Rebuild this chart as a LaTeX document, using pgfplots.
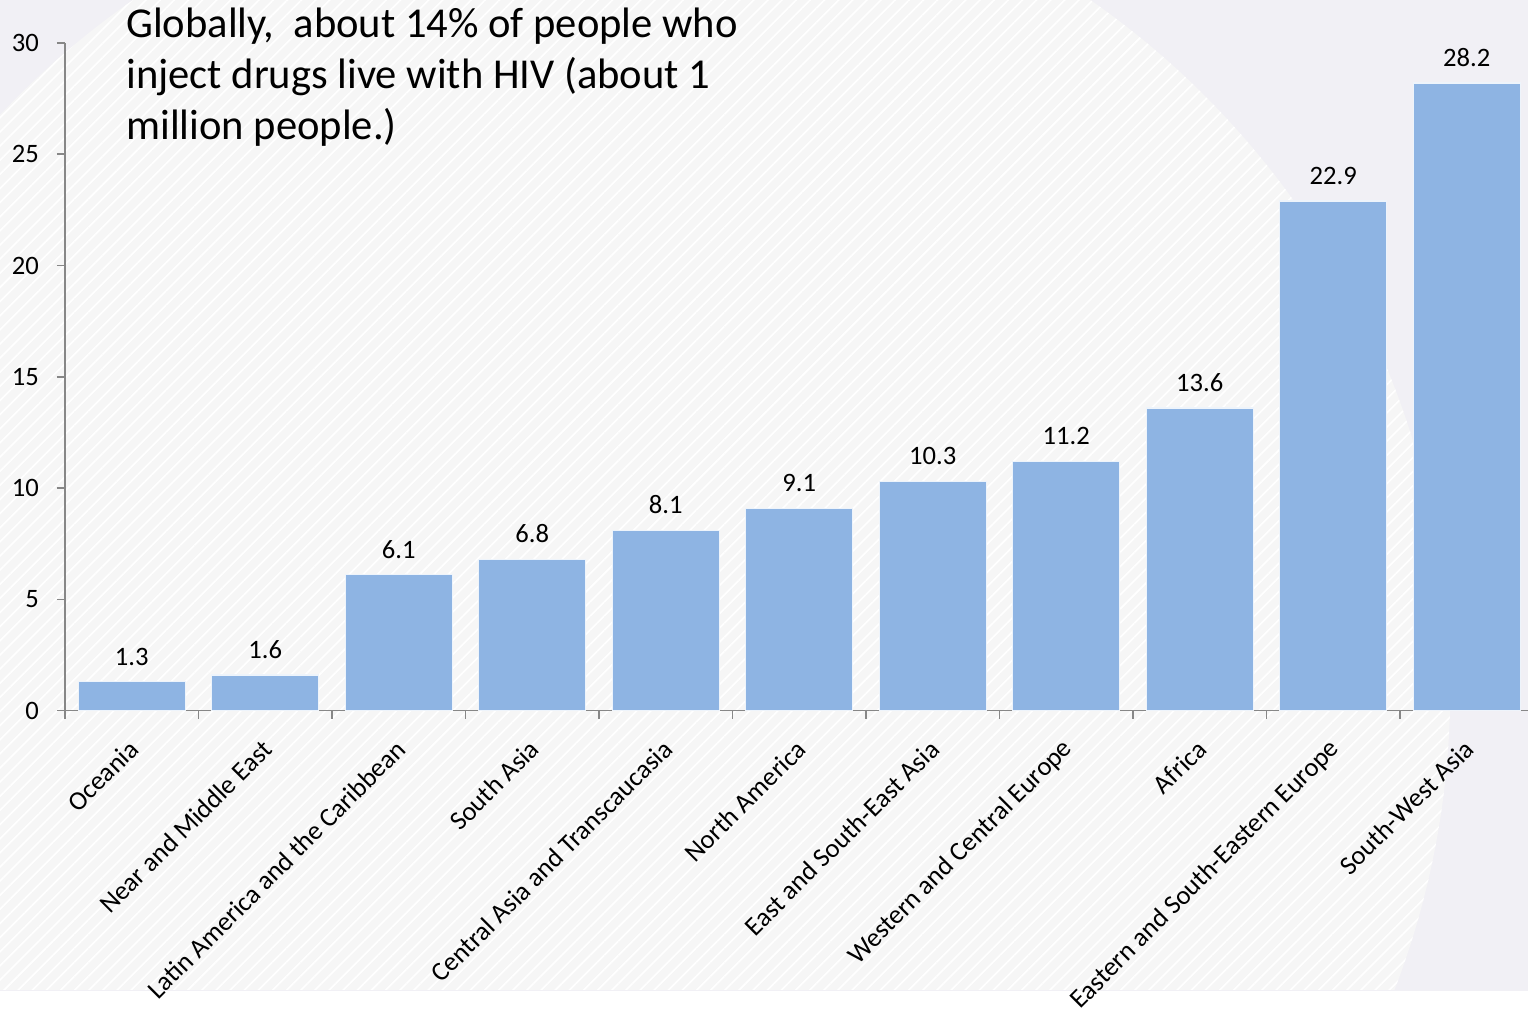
\documentclass[border=0pt]{standalone}
\usepackage{pgfplots}
\pgfplotsset{compat=1.18}
\usetikzlibrary{patterns.meta}
\usepackage{fontspec}
\setmainfont{Carlito}
\definecolor{bgout}{HTML}{F1F0F5}
\definecolor{bgin}{HTML}{F6F6F6}
\definecolor{barblue}{HTML}{8EB4E3}
\definecolor{axgrey}{HTML}{878787}
\begin{document}
\begin{tikzpicture}
% background (1px = 0.5pt; y measured from bottom)
\fill[bgout] (0,0) rectangle (764.5pt,503pt);
\begin{scope}
\clip (0,8pt) rectangle (764.5pt,503pt);
\fill[bgin] (306pt,158.5pt) circle (419.5pt);
\fill[pattern={Lines[angle=45, distance=5pt, line width=0.8pt]}, pattern color=white] (306pt,158.5pt) circle (419.5pt);
\end{scope}
\fill[white] (0,0) rectangle (764.5pt,7pt);
\begin{axis}[
  at={(32.5pt,147.5pt)}, anchor=south west,
  scale only axis, width=732pt, height=334pt,
  ybar, bar width=0.8,
  xmin=-0.5, xmax=10.46, ymin=0, ymax=30,
  axis lines*=left,
  axis line style={axgrey, line width=0.8pt},
  every tick/.style={axgrey, line width=0.8pt},
  tick align=outside,
  ytick={0,5,10,15,20,25,30},
  major tick length=4pt,
  xtick={0,...,10},
  x tick style={draw=none},
  xticklabels={Oceania, Near and Middle East, Latin America and the Caribbean, South Asia, Central Asia and Transcaucasia, North America, East and South-East Asia, Western and Central Europe, Africa, Eastern and South-Eastern Europe, South-West Asia},
  xticklabel style={rotate=45, anchor=east, font=\fontsize{13.3}{15}\selectfont, xshift=-5pt, yshift=-10pt},
  yticklabel style={font=\fontsize{13.3}{15}\selectfont, xshift=-5.5pt},
  extra x ticks={-0.5,0.5,...,9.5},
  extra x tick labels={},
  extra x tick style={x tick style={draw=axgrey}, major tick length=4pt},
  /pgf/number format/assume math mode=true,
  nodes near coords,
  nodes near coords style={font=\fontsize{13.3}{15}\selectfont, yshift=4.5pt, /pgf/number format/fixed, /pgf/number format/precision=1, /pgf/number format/fixed zerofill, /pgf/number format/assume math mode=true},
  clip=false,
]
\addplot[fill=barblue, draw=white!85!barblue, line width=0.6pt] coordinates {
(0,1.3) (1,1.6) (2,6.1) (3,6.8) (4,8.1) (5,9.1) (6,10.3) (7,11.2) (8,13.6) (9,22.9) (10,28.2)};
\end{axis}
\begin{scope}[every node/.style={anchor=base west, font=\fontsize{21.3}{25.5}\selectfont, inner sep=0pt}]
\node at (63pt,484pt) {Globally,\ \ about 14\% of people who};
\node at (63pt,458.5pt) {inject drugs live with HIV (about 1};
\node at (63pt,433pt) {million people.)};
\end{scope}
\end{tikzpicture}
\end{document}
